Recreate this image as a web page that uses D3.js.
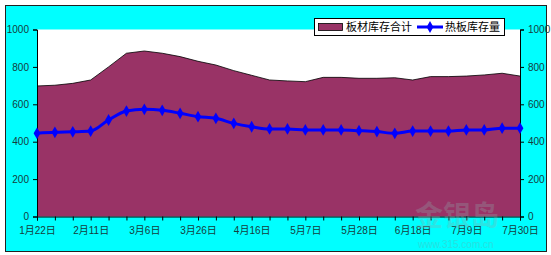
<!DOCTYPE html>
<html>
<head>
<meta charset="utf-8">
<script src="https://cdn.jsdelivr.net/npm/d3@7"></script>
<style>
  body { margin: 0; background: #fff; }
  svg text { font-family: "Liberation Sans", "Noto Sans CJK SC", sans-serif; }
</style>
</head>
<body>
<svg id="chart" width="551" height="255"></svg>
<script>
// weekly data, 28 points; only every 3rd date is labelled on the axis
const tickLabels = ["1月22日", "2月11日", "3月6日", "3月26日", "4月16日",
                    "5月7日", "5月28日", "6月18日", "7月9日", "7月30日"];

// 板材库存合计 (area)
const totalStock = [698, 702, 712, 730, 800, 873, 885, 873, 855, 830,
                    810, 780, 755, 730, 725, 721, 744, 744, 739, 739,
                    742, 730, 748, 748, 751, 757, 766, 751];

// 热板库存量 (line)
const hotStock = [445, 450, 453, 457, 516, 564, 573, 568, 552, 534,
                  525, 498, 480, 468, 468, 463, 463, 463, 459, 454,
                  445, 457, 457, 457, 463, 463, 472, 472];

const yTicks = [0, 200, 400, 600, 800, 1000];

const svg = d3.select("#chart");
const textColor = "#163c3c";

// outer frame
svg.append("rect")
  .attr("x", 5.5).attr("y", 5.5)
  .attr("width", 541).attr("height", 246)
  .attr("fill", "#00ffff")
  .attr("stroke", "#222").attr("stroke-width", 1);

const idx = d3.range(totalStock.length);
const x = d3.scalePoint().domain(idx).range([37, 520]);
const y = d3.scaleLinear().domain([0, 1000]).range([216.5, 29.5]);

// plot area
svg.append("rect")
  .attr("x", 37).attr("y", y(1000))
  .attr("width", 483).attr("height", y(0) - y(1000))
  .attr("fill", "#fff");

// area series
const area = d3.area()
  .x(i => x(i))
  .y0(y(0))
  .y1(i => y(totalStock[i]));

svg.append("path")
  .datum(idx)
  .attr("d", area)
  .attr("fill", "#993366");

svg.append("path")
  .datum(idx)
  .attr("d", d3.line().x(i => x(i)).y(i => y(totalStock[i])))
  .attr("fill", "none")
  .attr("stroke", "#000")
  .attr("stroke-width", 0.8);

// axes
const yLeft = d3.axisLeft(y).tickValues(yTicks).tickSize(4).tickPadding(4)
  .tickFormat(d3.format("d"));
const yRight = d3.axisRight(y).tickValues(yTicks).tickSize(4).tickPadding(4)
  .tickFormat(d3.format("d"));

function styleAxis(g) {
  g.select(".domain").attr("stroke", "#000");
  g.selectAll(".tick line").attr("stroke", "#000");
  g.selectAll(".tick text").attr("fill", textColor).attr("font-size", 10);
}

svg.append("g").attr("transform", "translate(37,0)").call(yLeft).call(styleAxis);
svg.append("g").attr("transform", "translate(520,0)").call(yRight).call(styleAxis);

const xAxis = d3.axisBottom(x).tickSize(4).tickPadding(6)
  .tickFormat(i => i % 3 === 0 ? tickLabels[i / 3] : "");
svg.append("g").attr("transform", `translate(0,${y(0)})`).call(xAxis).call(styleAxis);

// line series
svg.append("path")
  .datum(idx)
  .attr("d", d3.line().x(i => x(i)).y(i => y(hotStock[i])).curve(d3.curveMonotoneX))
  .attr("fill", "none")
  .attr("stroke", "#0000ff")
  .attr("stroke-width", 3);

const diamond = d3.symbol().type(d3.symbolDiamond).size(40);
svg.append("g").selectAll("path")
  .data(idx)
  .join("path")
  .attr("d", diamond)
  .attr("transform", i => `translate(${x(i)},${y(hotStock[i])})`)
  .attr("fill", "#0000ff");

// legend
const lg = svg.append("g").attr("transform", "translate(314,18)");
lg.append("rect")
  .attr("x", 0.5).attr("y", 0.5).attr("width", 190).attr("height", 17)
  .attr("fill", "#fff").attr("stroke", "#000");
lg.append("rect")
  .attr("x", 4.5).attr("y", 5.5).attr("width", 24).attr("height", 7)
  .attr("fill", "#993366").attr("stroke", "#000").attr("stroke-width", 0.8);
lg.append("text").attr("x", 32).attr("y", 13)
  .attr("font-size", 11).attr("fill", "#000").text("板材库存合计");
lg.append("line")
  .attr("x1", 103).attr("x2", 129).attr("y1", 9).attr("y2", 9)
  .attr("stroke", "#0000ff").attr("stroke-width", 3);
lg.append("path").attr("d", diamond).attr("transform", "translate(116,9)")
  .attr("fill", "#0000ff");
lg.append("text").attr("x", 131).attr("y", 13)
  .attr("font-size", 11).attr("fill", "#000").text("热板库存量");

// faint watermark (sits over the lower right corner, as in the source image)
const wm = svg.append("g").attr("opacity", 0.3);
wm.append("text").attr("x", 415).attr("y", 226)
  .attr("font-size", 28).attr("font-weight", "bold").attr("fill", "#8fa8a8").text("金银岛");
wm.append("text").attr("x", 418).attr("y", 248)
  .attr("font-size", 10).attr("fill", "#7a9a9a").text("www.315.com.cn");
</script>
</body>
</html>
